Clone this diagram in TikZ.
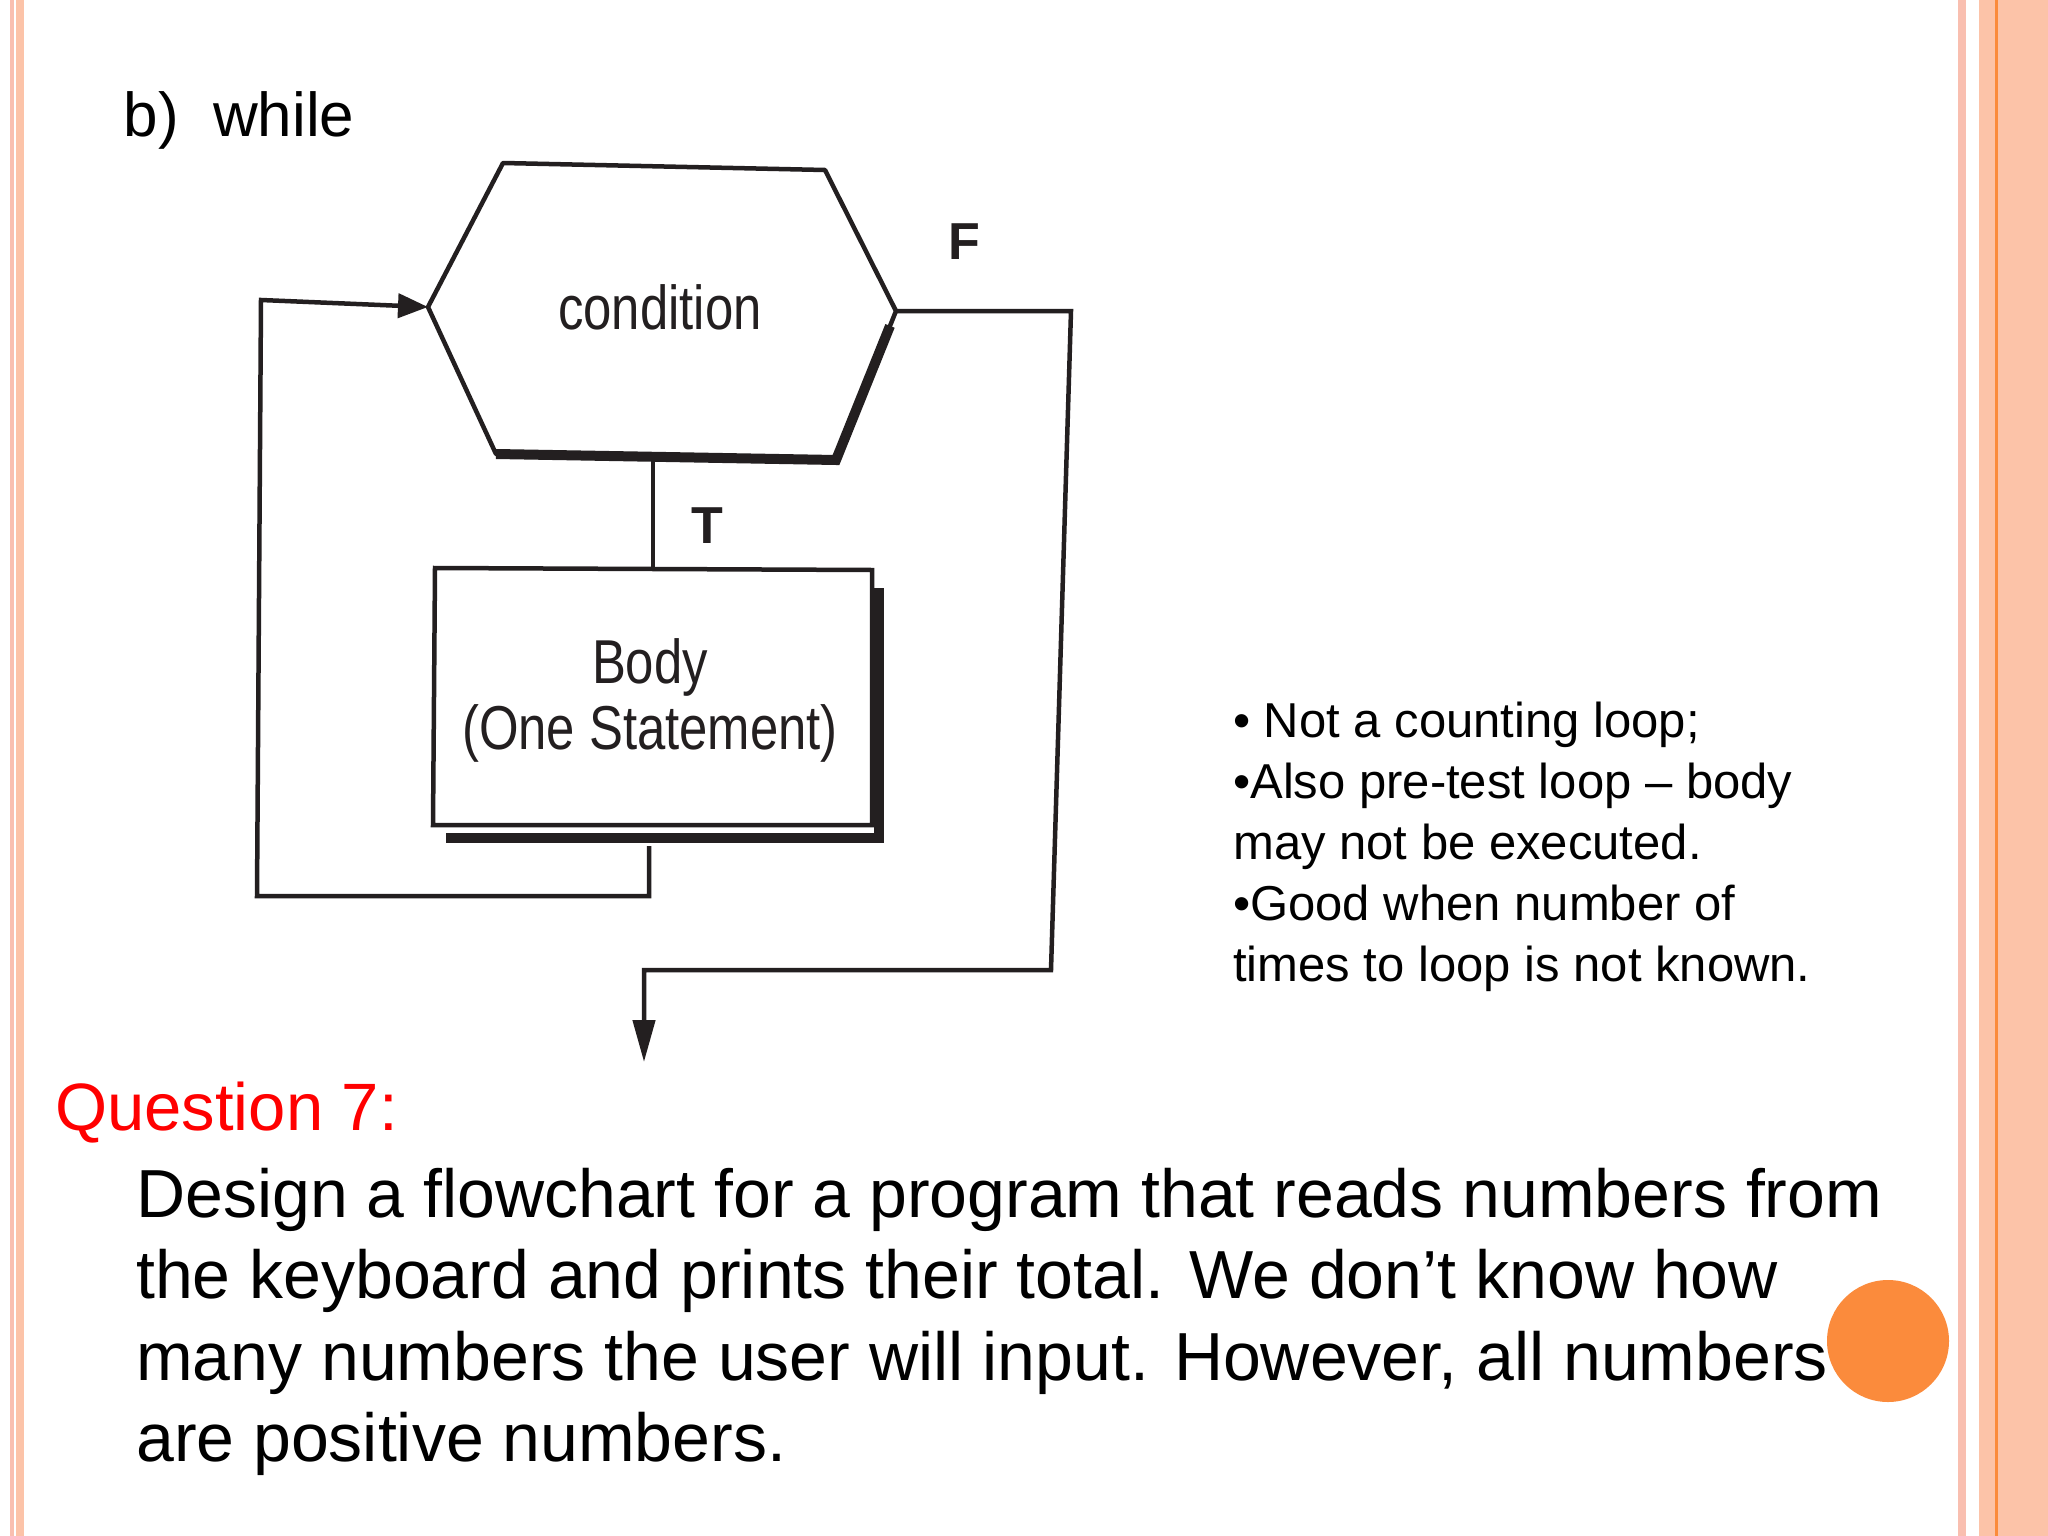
\documentclass[tikz,border=0pt]{standalone}
\usepackage{fontspec}
\setmainfont{Liberation Sans}
\usetikzlibrary{arrows.meta,calc}
\definecolor{salm}{HTML}{FCC3A8}
\definecolor{pinkb}{HTML}{F9BFB0}
\definecolor{orng}{HTML}{FB8B3C}
\definecolor{dk}{HTML}{231F20}
\tikzset{
  flow/.style={draw=dk,line width=4.5pt},
  shad/.style={draw=dk,line width=10pt},
  lab/.style={font=\fontsize{52}{55}\selectfont\bfseries,text=dk},
  dtext/.style={font=\fontsize{62}{66}\selectfont,text=dk,xscale=0.82},
  bul/.style={font=\fontsize{49}{61}\selectfont,align=left,anchor=north west,inner sep=0pt},
  para/.style={font=\fontsize{68}{81.5}\selectfont,align=left,anchor=north west,inner sep=0pt}
}
\begin{document}
\begin{tikzpicture}[x=1pt,y=-1pt]
\useasboundingbox (0,0) rectangle (2048,1536);
\fill[white] (0,0) rectangle (2048,1536);
% borders
\fill[pinkb] (10,0) rectangle (14,1536);
\fill[salm] (16,0) rectangle (24,1536);
\fill[pinkb] (1958,0) rectangle (1966,1536);
\fill[salm] (1979,0) rectangle (2048,1536);
\fill[orng] (1995,0) rectangle (1998,1536);
% title
\node[anchor=west,font=\fontsize{62}{64}\selectfont] (ttl) at (120,120) {b)\ \ while};
% hexagon
\coordinate (h1) at (503,163); \coordinate (h2) at (825,170);
\coordinate (h3) at (896,311); \coordinate (h4) at (836,460);
\coordinate (h5) at (496,454); \coordinate (h6) at (428,307);
\draw[shad] (h5) -- (h4) -- ($(h3)!0.1!(h4)$);
\draw[flow,line join=round] (h1) -- (h2) -- (h3) -- (h4) -- (h5) -- (h6) -- cycle;
\node[dtext] (cond) at (660,307) {condition};
% body
\coordinate (b1) at (435,568); \coordinate (b2) at (872,570);
\coordinate (b3) at (872,825); \coordinate (b4) at (433,825);
\draw[shad] (446,838) -- (879,838) -- (879,588);
\draw[flow] (b1) -- (b2) -- (b3) -- (b4) -- cycle;
\node[dtext,align=center] (body) at (650,700) {Body\\(One Statement)};
\node[lab] (tl) at (707,526) {T};
\node[lab] (fl) at (964,242) {F};
% connectors
\coordinate (ht) at (653,460); \coordinate (bt) at (653,568);
\draw[flow] (ht) -- (bt);
\coordinate (bb) at (649,846); \coordinate (c1) at (649,896); \coordinate (c2) at (257,896); \coordinate (c3) at (261,300);
\draw[flow,-{Triangle[length=30pt,width=24pt]}] (bb) -- (c1) -- (c2) -- (c3) -- (h6);
\coordinate (f1) at (1071,311); \coordinate (f2) at (1051,970); \coordinate (f3) at (644,970); \coordinate (f4) at (644,1062);
\draw[flow,-{Triangle[length=42pt,width=22pt]}] (h3) -- (f1) -- (f2) -- (f3) -- (f4);
% bullets
\node[bul] (bl) at (1233,702) {• Not a counting loop;\\•Also pre-test loop – body\\may not be executed.\\•Good when number of\\times to loop is not known.};
% question
\node[anchor=west,font=\fontsize{67}{70}\selectfont,text=red,inner sep=0pt] (q) at (55,1113) {Question 7:};
\node[para] (p) at (136,1168) {Design a flowchart for a program that reads numbers from\\the keyboard and prints their total. We don’t know how\\many numbers the user will input. However, all numbers\\are positive numbers.};
\fill[orng] (1888,1341) circle (61);
\end{tikzpicture}
\end{document}
